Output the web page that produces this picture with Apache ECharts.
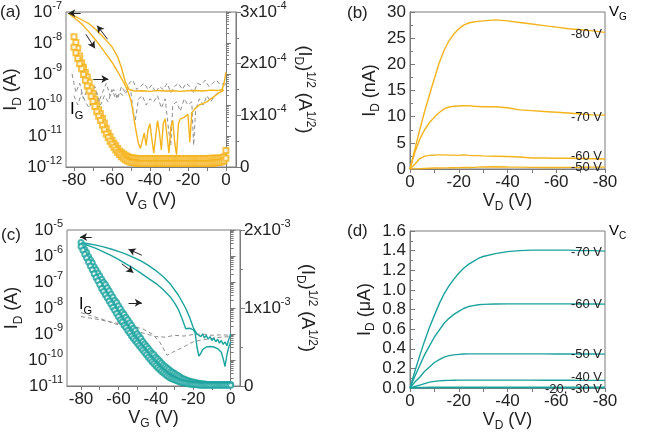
<!DOCTYPE html>
<html><head><meta charset="utf-8">
<script src="https://cdn.jsdelivr.net/npm/echarts/dist/echarts.min.js"></script>
<style>html,body{margin:0;padding:0;background:#fff}#c{width:664px;height:435px}</style>
</head><body><div id="c"></div>
<script>
// ---------- Panel (a): transfer curve, log10(I_D) in A, sqrt(I_D) in 1e-4 A^1/2 ----------
const aV_A   = [-82.5,-80,-76,-72,-68,-64,-60,-57,-55,-53,-51,-48,-44,-40,-36,-32,-28,-24,-20,-16,-12,-8,-4,-2,-1,0];
const aLog_A = [-7.03,-7.12,-7.25,-7.38,-7.6,-7.85,-8.12,-8.45,-8.8,-9.25,-9.5,-9.55,-9.54,-9.56,-9.53,-9.55,-9.54,-9.56,-9.54,-9.53,-9.55,-9.52,-9.53,-9.5,-9.3,-8.95];
const aV_B   = [-82.5,-80,-76,-72,-68,-64,-60,-57,-54,-52,-50,-49,-48,-47,-46,-45,-44,-43,-42,-41,-40,-39,-38,-37,-36,-35,-34,-33,-32,-31,-30,-29,-28,-27,-26,-25,-24,-22,-20,-19,-18,-16,-14,-12,-10,-8,-6,-4,-2,-1];
const aLog_B = [-7.06,-7.18,-7.38,-7.65,-7.95,-8.28,-8.62,-8.92,-9.25,-9.5,-9.85,-10.2,-10.6,-10.95,-11.25,-11.4,-11.15,-10.9,-11.3,-10.8,-10.6,-11.1,-11.55,-11.0,-10.5,-10.9,-11.45,-10.6,-10.45,-11.0,-11.55,-10.7,-10.5,-11.2,-11.6,-10.6,-10.45,-10.4,-10.3,-11.2,-10.25,-10.1,-10.0,-9.95,-9.9,-9.8,-9.72,-9.62,-9.55,-9.52];
// open squares, V_G = -80 ... 0 in 1 V steps
const aV_sq  = [-80,-79,-78,-77,-76,-75,-74,-73,-72,-71,-70,-69,-68,-67,-66,-65,-64,-63,-62,-61,-60,-59,-58,-57,-56,-55,-54,-53,-52,-51,-50,-49,-48,-47,-46,-45,-44,-43,-42,-41,-40,-39,-38,-37,-36,-35,-34,-33,-32,-31,-30,-29,-28,-27,-26,-25,-24,-23,-22,-21,-20,-19,-18,-17,-16,-15,-14,-13,-12,-11,-10,-9,-8,-7,-6,-5,-4,-3,-2,-1,0];
const aSq_1  = [2.52,2.41,2.30,2.15,2.02,1.93,1.83,1.74,1.64,1.53,1.42,1.31,1.20,1.11,1.03,0.94,0.85,0.75,0.66,0.59,0.52,0.46,0.41,0.36,0.31,0.28,0.25,0.23,0.21,0.19,0.18,0.175,0.17,0.165,0.16,0.16,0.158,0.16,0.162,0.16,0.158,0.16,0.16,0.162,0.16,0.158,0.16,0.16,0.162,0.16,0.16,0.158,0.16,0.16,0.162,0.16,0.158,0.16,0.16,0.162,0.16,0.16,0.158,0.16,0.16,0.162,0.16,0.16,0.158,0.16,0.162,0.165,0.17,0.17,0.17,0.17,0.17,0.175,0.18,0.2,0.32];
const aSq_2  = [2.32,2.21,2.10,2.0,1.9,1.79,1.68,1.57,1.47,1.37,1.27,1.17,1.07,0.98,0.9,0.81,0.72,0.64,0.57,0.5,0.44,0.38,0.33,0.28,0.24,0.2,0.17,0.14,0.12,0.1,0.09,0.085,0.08,0.075,0.07,0.07,0.068,0.07,0.072,0.07,0.068,0.07,0.07,0.072,0.07,0.068,0.07,0.07,0.072,0.07,0.07,0.068,0.07,0.07,0.072,0.07,0.068,0.07,0.07,0.072,0.07,0.07,0.068,0.07,0.07,0.072,0.07,0.07,0.068,0.07,0.07,0.071,0.072,0.075,0.078,0.08,0.085,0.09,0.1,0.12,0.17];
const aV_G1  = [-81,-79,-77,-75,-73,-71,-69,-67,-65,-63,-61,-59,-57,-55,-53,-51,-49,-47,-45,-43,-41,-39,-37,-35,-33,-31,-29,-27,-25,-23,-21,-19,-17,-15,-13,-11,-9,-7,-5,-3,-1];
const aLog_G1= [-9.0,-9.6,-9.3,-9.8,-9.5,-9.7,-9.4,-9.9,-9.6,-9.3,-9.7,-9.5,-9.8,-9.4,-9.6,-9.3,-9.2,-9.5,-9.4,-9.3,-9.5,-9.35,-9.6,-9.4,-9.5,-9.3,-9.6,-9.4,-9.3,-9.5,-9.3,-9.4,-9.6,-9.3,-9.35,-9.2,-9.4,-9.3,-9.2,-9.35,-9.3];
const aV_G2  = [-80,-78,-76,-74,-72,-70,-68,-66,-64,-62,-60,-58,-56,-54,-52,-50,-48,-46,-44,-42,-40,-38,-36,-34,-32,-30,-29,-28,-26,-24,-22,-20,-18,-17,-16,-14,-12,-10,-8,-6,-4,-2,0];
const aLog_G2= [-9.7,-10.0,-9.6,-9.9,-10.1,-9.8,-9.6,-10.0,-9.7,-9.9,-9.5,-9.8,-9.6,-9.7,-9.55,-9.6,-10.6,-9.8,-9.7,-10.0,-9.8,-9.9,-9.7,-10.1,-9.8,-10.9,-11.3,-10.0,-9.9,-10.2,-9.8,-10.0,-9.9,-11.3,-10.2,-9.8,-10.0,-9.7,-9.9,-9.7,-9.6,-9.5,-9.3];
// sweep-direction arrows: [xFrom, log10 yFrom, xTo, log10 yTo]
const aArrows = [[-76.5,-7.04,-83,-7.04],[-62.3,-7.88,-67.8,-7.44],[-73.7,-7.72,-69,-8.17],[-69.8,-9.16,-61.9,-9.16]];
const gateTicks  = [-80,-70,-60,-50,-40,-30,-20,-10,0];
const gateLabels = [-80,-60,-40,-20,0];

// ---------- Panel (b): output curves, I_D in nA ----------
const bVD  = [0,-2,-4,-6,-8,-10,-12,-14,-16,-18,-20,-22,-24,-26,-28,-30,-35,-40,-45,-50,-55,-60,-65,-70,-75,-80];
const b80  = [0,3.8,7.5,11,14.2,17.3,20.3,22.7,24.5,25.8,26.8,27.5,27.9,28.1,28.2,28.3,28.5,28.3,28.0,27.7,27.4,27.1,26.8,26.6,26.4,26.1];
const b70  = [0,3.2,5.7,7.5,8.9,9.9,10.8,11.5,11.85,12.0,12.05,12.1,12.1,12.0,11.95,11.9,11.9,11.7,11.3,11.15,11.0,10.85,10.7,10.5,10.35,10.3];
const b60  = [0,0.9,2.0,2.45,2.6,2.65,2.7,2.7,2.65,2.65,2.6,2.7,2.6,2.55,2.55,2.5,2.45,2.4,2.3,2.1,2.1,2.05,2.05,2.0,1.95,1.9];
const b50  = [0,0.02,0.05,0.1,0.15,0.18,0.2,0.22,0.23,0.25,0.26,0.28,0.3,0.32,0.35,0.38,0.42,0.38,0.35,0.32,0.3,0.3,0.32,0.33,0.35,0.35];
const bLabels = ['-80 V','-70 V','-60 V','-50 V'];

// ---------- Panel (c): transfer curve, log10(I_D) in A, sqrt(I_D) in 1e-3 A^1/2 ----------
const cV_A   = [-80,-76,-72,-68,-64,-60,-56,-52,-48,-44,-40,-36,-32,-28,-26,-24,-22,-20,-19,-18,-17,-16,-15,-14,-13,-12,-11,-10,-9,-8,-7,-6,-5,-4,-3,-2,-1,0];
const cLog_A = [-5.49,-5.53,-5.58,-5.65,-5.73,-5.82,-5.93,-6.05,-6.19,-6.36,-6.56,-6.8,-7.1,-7.5,-7.75,-8.02,-8.35,-8.75,-8.82,-9.0,-8.95,-9.1,-9.0,-9.15,-9.05,-9.2,-9.1,-9.25,-9.15,-9.3,-9.2,-9.35,-9.25,-9.4,-9.3,-9.45,-9.2,-9.0];
const cV_B   = [-80,-76,-72,-68,-64,-60,-56,-52,-48,-44,-40,-36,-32,-30,-28,-26,-24,-23,-22,-21,-20,-19,-18,-17,-16,-15,-14,-13,-12,-11,-10,-9,-8,-7,-6,-5,-4,-3,-2,-1,0];
const cLog_B = [-5.5,-5.6,-5.71,-5.84,-5.98,-6.13,-6.3,-6.47,-6.66,-6.86,-7.05,-7.3,-7.6,-7.8,-8.05,-8.4,-8.8,-8.82,-8.78,-8.85,-8.83,-8.95,-9.5,-9.85,-9.75,-9.6,-9.55,-9.5,-9.52,-9.48,-9.53,-9.5,-9.55,-9.56,-9.6,-9.7,-9.95,-10.25,-9.8,-9.5,-9.3];
// open circles, V_G = -80 ... 0 in 1 V steps
const cV_c   = [-80,-79,-78,-77,-76,-75,-74,-73,-72,-71,-70,-69,-68,-67,-66,-65,-64,-63,-62,-61,-60,-59,-58,-57,-56,-55,-54,-53,-52,-51,-50,-49,-48,-47,-46,-45,-44,-43,-42,-41,-40,-39,-38,-37,-36,-35,-34,-33,-32,-31,-30,-29,-28,-27,-26,-25,-24,-23,-22,-21,-20,-19,-18,-17,-16,-15,-14,-13,-12,-11,-10,-9,-8,-7,-6,-5,-4,-3,-2,-1,0];
const cCirc_1= [1.84,1.80,1.75,1.71,1.66,1.62,1.58,1.53,1.49,1.45,1.41,1.37,1.33,1.30,1.26,1.22,1.18,1.14,1.10,1.07,1.03,0.99,0.95,0.92,0.88,0.85,0.81,0.78,0.74,0.71,0.67,0.64,0.61,0.57,0.54,0.51,0.48,0.45,0.42,0.40,0.37,0.345,0.32,0.295,0.27,0.25,0.23,0.21,0.19,0.175,0.16,0.145,0.13,0.115,0.10,0.09,0.08,0.07,0.06,0.055,0.05,0.045,0.04,0.035,0.03,0.028,0.025,0.022,0.02,0.02,0.02,0.02,0.02,0.02,0.02,0.02,0.02,0.02,0.02,0.02,0.02];
const cCirc_2= [1.79,1.74,1.69,1.64,1.59,1.54,1.49,1.44,1.39,1.35,1.30,1.25,1.21,1.17,1.13,1.09,1.05,1.01,0.97,0.93,0.89,0.85,0.82,0.78,0.75,0.71,0.68,0.64,0.61,0.58,0.55,0.52,0.49,0.46,0.43,0.40,0.37,0.34,0.31,0.285,0.26,0.235,0.21,0.19,0.17,0.15,0.13,0.115,0.10,0.09,0.08,0.07,0.06,0.052,0.045,0.04,0.035,0.03,0.025,0.022,0.02,0.018,0.015,0.013,0.01,0.01,0.01,0.01,0.01,0.01,0.01,0.01,0.01,0.01,0.01,0.01,0.01,0.01,0.01,0.01,0.01];
const cV_G1  = [-80,-70,-60,-55,-50,-45,-40,-35,-30,-25,-20,-15,-10,-5,0];
const cLog_G1= [-8.18,-8.4,-8.65,-8.77,-8.9,-9.0,-9.1,-9.12,-9.05,-9.08,-9.02,-9.0,-9.05,-9.03,-9.05];
const cV_G2  = [-80,-70,-64,-56,-47,-42,-38,-34,-31,-28,-24,-20,-15,-11,-5,0];
const cLog_G2= [-8.33,-8.45,-8.54,-8.65,-8.8,-9.0,-9.3,-9.82,-9.7,-9.6,-9.45,-9.3,-9.22,-9.18,-9.12,-9.1];
const cArrows = [[-74.3,-5.27,-80.5,-5.27],[-47.5,-5.97,-54.6,-5.74],[-58.2,-6.3,-52,-6.64],[-54.6,-7.8,-47.5,-7.8]];

// ---------- Panel (d): output curves, I_D in uA ----------
const dVD = [0,-2,-4,-6,-8,-10,-12,-14,-16,-18,-20,-22,-24,-26,-28,-30,-35,-40,-45,-50,-55,-60,-65,-70,-75,-80];
const d70 = [0,0.17,0.33,0.48,0.62,0.74,0.86,0.96,1.04,1.11,1.17,1.22,1.26,1.29,1.32,1.34,1.37,1.39,1.40,1.405,1.405,1.405,1.405,1.40,1.40,1.395];
const d60 = [0,0.12,0.23,0.34,0.43,0.52,0.59,0.66,0.71,0.75,0.78,0.81,0.83,0.84,0.848,0.852,0.856,0.857,0.857,0.857,0.857,0.857,0.857,0.856,0.856,0.855];
const d50 = [0,0.06,0.11,0.17,0.215,0.26,0.29,0.315,0.33,0.338,0.343,0.346,0.348,0.348,0.348,0.348,0.348,0.348,0.348,0.348,0.348,0.347,0.347,0.346,0.346,0.345];
const d40 = [0,0.015,0.03,0.045,0.06,0.068,0.073,0.076,0.078,0.079,0.08,0.08,0.08,0.08,0.08,0.08,0.08,0.08,0.08,0.08,0.079,0.079,0.079,0.078,0.078,0.078];
const d30 = [0,0.003,0.005,0.006,0.007,0.007,0.007,0.007,0.007,0.007,0.007,0.007,0.007,0.007,0.007,0.007,0.007,0.007,0.007,0.007,0.007,0.007,0.007,0.007,0.007,0.007];
const d20 = [0,0.001,0.001,0.001,0.001,0.001,0.001,0.001,0.001,0.001,0.001,0.001,0.001,0.001,0.001,0.001,0.001,0.001,0.001,0.001,0.001,0.001,0.001,0.001,0.001,0.001];
const dLabels = ['-70 V','-60 V','-50 V','-40 V','-20, -30 V'];

// ---------- styling ----------
const FONT = '"Liberation Sans", Arial, Helvetica, sans-serif';
const INK = '#222';
const AXC = '#7a7a7a';
const ORANGE = '#F5B31C';
const TEAL = '#1AA39E';
const GRAY = '#8c8c8c';

function rich(size) {
  const s = Math.round(size * 0.66);
  return {
    n:   {fontSize: size, fontFamily: FONT, color: INK, lineHeight: size + 6},
    sub: {fontSize: s, fontFamily: FONT, color: INK, verticalAlign: 'bottom', lineHeight: Math.round(size * 0.5)},
    sup: {fontSize: s, fontFamily: FONT, color: INK, verticalAlign: 'top', lineHeight: Math.round(size * 0.5)}
  };
}
const pow10 = v => Math.pow(10, v);
const zip = (xs, ys, f) => xs.map((x, i) => [x, f ? f(ys[i]) : ys[i]]);

function xAx(gi, min, max, inverse, name, gap) {
  return {
    type: 'value', gridIndex: gi, min, max, inverse,
    name, nameLocation: 'middle', nameGap: gap, nameTextStyle: {rich: rich(18)},
    axisLine: {show: true, onZero: false, lineStyle: {color: AXC}},
    axisTick: {show: true, inside: false, length: 4, lineStyle: {color: AXC}, customValues: gateTicks},
    axisLabel: {fontSize: 17, color: INK, fontFamily: FONT, margin: 5, customValues: gateLabels,
      showMinLabel: true, showMaxLabel: true, hideOverlap: false},
    splitLine: {show: false}
  };
}
function yLog(gi, min, max, name, gap) {
  return {
    type: 'log', logBase: 10, gridIndex: gi, min, max, position: 'left',
    name, nameLocation: 'middle', nameGap: gap, nameRotate: 90, nameTextStyle: {rich: rich(18)},
    axisLine: {show: true, lineStyle: {color: AXC}},
    axisTick: {show: true, inside: true, length: 5, lineStyle: {color: AXC}},
    minorTick: {show: true, splitNumber: 9, length: 3, lineStyle: {color: AXC}},
    axisLabel: {color: INK, fontFamily: FONT, margin: 4, rich: rich(17),
      formatter: v => '{n|10}{sup|' + Math.round(Math.log10(v)) + '}'},
    splitLine: {show: false}, minorSplitLine: {show: false}
  };
}
function yRight(gi, max, exp, name, gap) {
  return {
    type: 'value', gridIndex: gi, min: 0, max, interval: 1, position: 'right',
    name, nameLocation: 'middle', nameGap: gap, nameRotate: -90, nameTextStyle: {rich: rich(18)},
    axisLine: {show: true, lineStyle: {color: AXC}},
    axisTick: {show: true, inside: false, length: 5, lineStyle: {color: AXC}},
    minorTick: {show: true, splitNumber: 2, length: 3, lineStyle: {color: AXC}},
    axisLabel: {color: INK, fontFamily: FONT, margin: 4, rich: rich(17),
      formatter: v => v === 0 ? '{n|0}' : '{n|' + Math.round(v) + 'x10}{sup|' + exp + '}'},
    splitLine: {show: false}
  };
}
function yLin(gi, max, interval, dec, name, gap) {
  return {
    type: 'value', gridIndex: gi, min: 0, max, interval, position: 'left',
    name, nameLocation: 'middle', nameGap: gap, nameRotate: 90, nameTextStyle: {rich: rich(18)},
    axisLine: {show: true, lineStyle: {color: AXC}},
    axisTick: {show: true, inside: true, length: 5, lineStyle: {color: AXC}},
    minorTick: {show: true, splitNumber: 2, length: 3, lineStyle: {color: AXC}},
    axisLabel: {fontSize: 17, color: INK, fontFamily: FONT, margin: 4,
      formatter: v => v.toFixed(dec)},
    splitLine: {show: false}
  };
}
function arrowLine(list) {
  return {
    silent: true, symbol: ['none', 'arrow'], symbolSize: [6, 7], precision: 6,
    label: {show: false}, emphasis: {disabled: true},
    lineStyle: {color: '#222', width: 1, type: 'solid'},
    data: list.map(a => [{coord: [a[0], pow10(a[1])]}, {coord: [a[2], pow10(a[3])]}])
  };
}
function line(xi, yi, data, color, extra) {
  return Object.assign({
    type: 'line', xAxisIndex: xi, yAxisIndex: yi, data, showSymbol: false,
    lineStyle: {color, width: 1.4}, itemStyle: {color}, z: 3
  }, extra || {});
}
function dashed(xi, yi, data) {
  return {type: 'line', xAxisIndex: xi, yAxisIndex: yi, data, showSymbol: false,
    lineStyle: {color: GRAY, width: 1, type: [4, 3]}, itemStyle: {color: GRAY}, z: 2};
}
function marks(xi, yi, data, color, symbol) {
  return {type: 'scatter', xAxisIndex: xi, yAxisIndex: yi, data, symbol, symbolSize: 5,
    itemStyle: {color, borderWidth: 1}, z: 4};
}
function endLab(text, dy) {
  return {endLabel: {show: true, formatter: text, distance: 3, offset: [0, dy],
    color: INK, fontSize: 13, fontFamily: FONT}};
}

const grids = [
  {left: 66, top: 12, width: 170, height: 155},
  {left: 410, top: 12, width: 195, height: 157},
  {left: 67, top: 230, width: 173, height: 156},
  {left: 410, top: 231, width: 195, height: 157}
].map(g => Object.assign(g, {show: true, borderColor: AXC, borderWidth: 1, backgroundColor: 'transparent'}));

const option = {
  animation: false,
  backgroundColor: '#fff',
  grid: grids,
  xAxis: [
    xAx(0, -84.2, 5.3, false, '{n|V}{sub|G}{n| (V)}', 21),
    xAx(1, -80, 0, true, '{n|V}{sub|D}{n| (V)}', 19),
    xAx(2, -87.5, 5, false, '{n|V}{sub|G}{n| (V)}', 20),
    xAx(3, -80, 0, true, '{n|V}{sub|D}{n| (V)}', 15)
  ],
  yAxis: [
    yLog(0, 1e-12, 1e-7, '{n|I}{sub|D}{n| (A)}', 36),
    yRight(0, 3, -4, '{n|(I}{sub|D}{n|)}{sup|1/2}{n| (A}{sup|1/2}{n|)}', 56),
    yLin(1, 30, 5, 0, '{n|I}{sub|D}{n| (nA)}', 28),
    yLog(2, 1e-11, 1e-5, '{n|I}{sub|D}{n| (A)}', 36),
    yRight(2, 2, -3, '{n|(I}{sub|D}{n|)}{sup|1/2}{n| (A}{sup|1/2}{n|)}', 48),
    yLin(3, 1.6, 0.2, 1, '{n|I}{sub|D}{n| (\u03bcA)}', 33)
  ],
  series: [
    // (a)
    dashed(0, 0, zip(aV_G1, aLog_G1, pow10)),
    dashed(0, 0, zip(aV_G2, aLog_G2, pow10)),
    line(0, 0, zip(aV_A, aLog_A, pow10), ORANGE, {markLine: arrowLine(aArrows)}),
    line(0, 0, zip(aV_B, aLog_B, pow10), ORANGE),
    marks(0, 1, zip(aV_sq, aSq_1), ORANGE, 'emptyRect'),
    marks(0, 1, zip(aV_sq, aSq_2), ORANGE, 'emptyRect'),
    // (b)
    line(1, 2, zip(bVD, b80), ORANGE, endLab(bLabels[0], 2)),
    line(1, 2, zip(bVD, b70), ORANGE, endLab(bLabels[1], 2)),
    line(1, 2, zip(bVD, b60), ORANGE, endLab(bLabels[2], -3)),
    line(1, 2, zip(bVD, b50), ORANGE, endLab(bLabels[3], 0)),
    // (c)
    dashed(2, 3, zip(cV_G1, cLog_G1, pow10)),
    dashed(2, 3, zip(cV_G2, cLog_G2, pow10)),
    line(2, 3, zip(cV_A, cLog_A, pow10), TEAL, {markLine: arrowLine(cArrows)}),
    line(2, 3, zip(cV_B, cLog_B, pow10), TEAL),
    marks(2, 4, zip(cV_c, cCirc_1), TEAL, 'emptyCircle'),
    marks(2, 4, zip(cV_c, cCirc_2), TEAL, 'emptyCircle'),
    // (d)
    line(3, 5, zip(dVD, d70), TEAL, endLab(dLabels[0], 1)),
    line(3, 5, zip(dVD, d60), TEAL, endLab(dLabels[1], 0)),
    line(3, 5, zip(dVD, d50), TEAL, endLab(dLabels[2], 0)),
    line(3, 5, zip(dVD, d40), TEAL, endLab(dLabels[3], -3)),
    line(3, 5, zip(dVD, d30), TEAL),
    line(3, 5, zip(dVD, d20), TEAL, endLab(dLabels[4], 2))
  ],
  graphic: [
    {type: 'text', x: 0, y: 4, style: {text: '(a)', fontSize: 17, fontFamily: FONT, fill: INK}},
    {type: 'text', x: 347, y: 5, style: {text: '(b)', fontSize: 17, fontFamily: FONT, fill: INK}},
    {type: 'text', x: 1, y: 227, style: {text: '(c)', fontSize: 17, fontFamily: FONT, fill: INK}},
    {type: 'text', x: 347, y: 223, style: {text: '(d)', fontSize: 17, fontFamily: FONT, fill: INK}},
    {type: 'text', x: 70, y: 98, style: {text: '{n|I}{sub|G}', rich: rich(17)}},
    {type: 'text', x: 79, y: 294, style: {text: '{n|I}{sub|G}', rich: rich(16)}},
    {type: 'text', x: 609, y: 1, style: {text: '{n|V}{sub|G}', rich: rich(15)}},
    {type: 'text', x: 609, y: 220, style: {text: '{n|V}{sub|C}', rich: rich(15)}}
  ]
};
const chart = echarts.init(document.getElementById('c'), null, {renderer: 'canvas'});
chart.setOption(option);
</script></body></html>
